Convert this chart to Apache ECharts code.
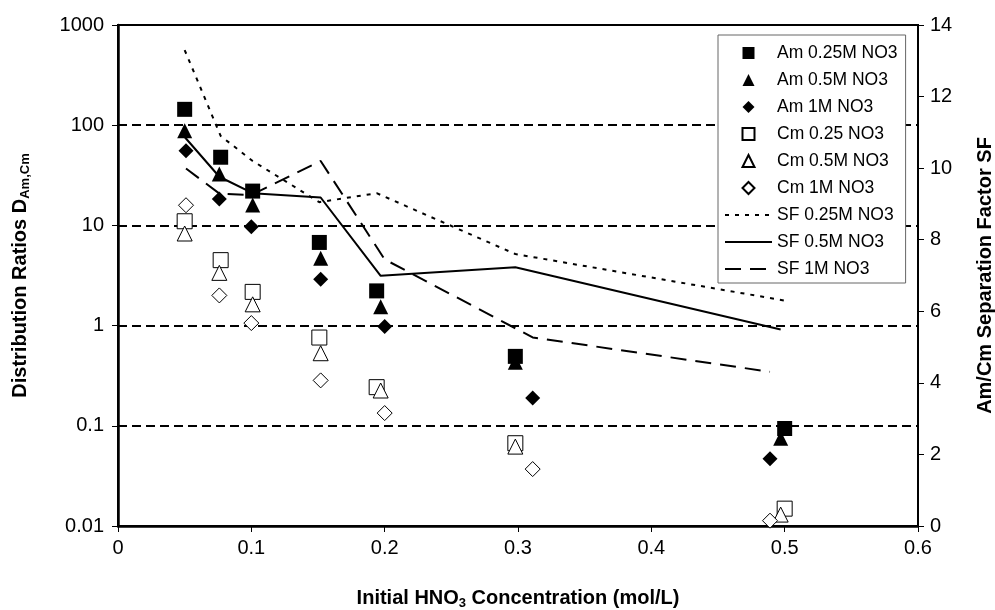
<!DOCTYPE html>
<html>
<head>
<meta charset="utf-8">
<script src="https://cdn.jsdelivr.net/npm/echarts@6/dist/echarts.min.js"></script>
<style>
html,body{margin:0;padding:0;background:#fff;}
#chart{width:995px;height:610px;}
</style>
</head>
<body>
<div id="chart"></div>
<script>
// ---- data ----
var x025 = [0.05, 0.077, 0.101, 0.151, 0.194, 0.298, 0.5];
var x05  = [0.05, 0.076, 0.101, 0.152, 0.197, 0.298, 0.497];
var x1   = [0.051, 0.076, 0.1, 0.152, 0.2, 0.311, 0.489];

var am025 = [144, 47.9, 22, 6.76, 2.22, 0.493, 0.094];
var am05  = [88, 32.6, 16, 4.7, 1.54, 0.43, 0.075];
var am1   = [55.7, 18.3, 9.7, 2.9, 0.98, 0.189, 0.047];

var cm025 = [11, 4.5, 2.17, 0.76, 0.243, 0.067, 0.0149];
var cm05  = [8.3, 3.36, 1.63, 0.53, 0.225, 0.062, 0.013];
var cm1   = [15.9, 2.0, 1.06, 0.284, 0.134, 0.037, 0.0113];

var sf025 = [13.3, 10.9, 10.2, 9.05, 9.3, 7.6, 6.3];
var sf05  = [10.87, 9.76, 9.3, 9.18, 6.99, 7.23, 5.49];
var sf1   = [9.99, 9.29, 9.25, 10.2, 7.45, 5.27, 4.31];

var seriesNames = ['Am 0.25M NO3', 'Am 0.5M NO3', 'Am 1M NO3',
                   'Cm 0.25 NO3', 'Cm 0.5M NO3', 'Cm 1M NO3',
                   'SF 0.25M NO3', 'SF 0.5M NO3', 'SF 1M NO3'];

function pairs(xs, ys) { return xs.map(function (x, i) { return [x, ys[i]]; }); }

var FONT = '"Liberation Sans", Arial, sans-serif';
var ICON = {
  rect: 'path://M0,0L10,0L10,10L0,10Z',
  triangle: 'path://M5,0L10,10L0,10Z',
  diamond: 'path://M5,0L10,5L5,10L0,5Z'
};

function scatter(name, xs, ys, symbol, filled) {
  return {
    name: name, type: 'scatter', yAxisIndex: 0, z: 5,
    symbol: symbol, symbolSize: 15,
    itemStyle: filled ? { color: '#000', borderColor: '#000', borderWidth: 0, opacity: 1 }
                      : { color: '#fff', borderColor: '#000', borderWidth: 1, opacity: 1 },
    data: pairs(xs, ys)
  };
}
function line(name, xs, ys, type, width) {
  return {
    name: name, type: 'line', yAxisIndex: 1, z: 3,
    symbol: 'circle', showSymbol: false, symbolSize: 0,
    lineStyle: { color: '#000', width: width, type: type },
    itemStyle: { color: 'rgba(0,0,0,0)', borderWidth: 0 },
    data: pairs(xs, ys)
  };
}

var legendData = [
  { name: seriesNames[0], icon: ICON.rect },
  { name: seriesNames[1], icon: ICON.triangle },
  { name: seriesNames[2], icon: ICON.diamond },
  { name: seriesNames[3], icon: ICON.rect },
  { name: seriesNames[4], icon: ICON.triangle },
  { name: seriesNames[5], icon: ICON.diamond },
  { name: seriesNames[6] },
  { name: seriesNames[7] },
  { name: seriesNames[8] }
];

var chart = echarts.init(document.getElementById('chart'), null, { renderer: 'canvas' });
chart.setOption({
  animation: false,
  backgroundColor: '#fff',
  textStyle: { fontFamily: FONT },
  grid: { left: 118, right: 77, top: 25, bottom: 84, containLabel: false, outerBoundsMode: 'none',
          show: true, borderColor: '#000', borderWidth: 2, backgroundColor: 'transparent' },
  legend: {
    orient: 'vertical', left: 718, top: 35,
    padding: [9, 8, 5, 6],
    itemWidth: 47, itemHeight: 12, itemGap: 9,
    symbolKeepAspect: true,
    backgroundColor: '#fff', borderColor: '#666', borderWidth: 1,
    selectedMode: false,
    textStyle: { fontFamily: FONT, fontSize: 17.5, color: '#000' },
    data: legendData
  },
  xAxis: {
    type: 'value', min: 0, max: 0.6, interval: 0.1,
    axisLine: { lineStyle: { color: '#000', width: 2.5 } },
    axisTick: { show: true, length: 6, lineStyle: { color: '#000', width: 1 } },
    axisLabel: { color: '#000', fontSize: 20, fontFamily: FONT, margin: 12,
      formatter: function (v) { return v === 0 ? '0' : (+v.toFixed(1)).toString(); } },
    splitLine: { show: false },
    name: 'Initial HNO{sub|3} Concentration (mol/L)',
    nameLocation: 'middle', nameGap: 61,
    nameTextStyle: { color: '#000', fontSize: 20, fontWeight: 'bold', fontFamily: FONT,
      rich: { sub: { fontSize: 13, fontWeight: 'bold', fontFamily: FONT, color: '#000', padding: [10, 0, 0, 0] } } }
  },
  yAxis: [{
    type: 'log', logBase: 10, min: 0.01, max: 1000,
    axisLine: { show: true, lineStyle: { color: '#000', width: 2.5 } },
    axisTick: { show: true, length: 6, lineStyle: { color: '#000', width: 1 } },
    axisLabel: { color: '#000', fontSize: 20, fontFamily: FONT, margin: 14,
      formatter: function (v) { return v >= 1 ? String(Math.round(v)) : String(+v.toPrecision(1)); } },
    splitLine: { show: true, lineStyle: { color: '#000', width: 2, type: [9, 5] } },
    name: 'Distribution Ratios D{sub|Am,Cm}',
    nameLocation: 'middle', nameRotate: 90, nameGap: 86,
    nameTextStyle: { color: '#000', fontSize: 20, fontWeight: 'bold', fontFamily: FONT,
      rich: { sub: { fontSize: 13, fontWeight: 'bold', fontFamily: FONT, color: '#000', padding: [10, 0, 0, 0] } } }
  }, {
    type: 'value', min: 0, max: 14, interval: 2, position: 'right',
    axisLine: { show: true, lineStyle: { color: '#000', width: 2 } },
    axisTick: { show: true, length: 6, lineStyle: { color: '#000', width: 1 } },
    axisLabel: { color: '#000', fontSize: 20, fontFamily: FONT, margin: 12 },
    splitLine: { show: false },
    name: 'Am/Cm Separation Factor SF',
    nameLocation: 'middle', nameRotate: 90, nameGap: 57,
    nameTextStyle: { color: '#000', fontSize: 20, fontWeight: 'bold', fontFamily: FONT }
  }],
  series: [
    scatter(seriesNames[0], x025, am025, 'rect', true),
    scatter(seriesNames[1], x05, am05, 'triangle', true),
    scatter(seriesNames[2], x1, am1, 'diamond', true),
    scatter(seriesNames[3], x025, cm025, 'rect', false),
    scatter(seriesNames[4], x05, cm05, 'triangle', false),
    scatter(seriesNames[5], x1, cm1, 'diamond', false),
    line(seriesNames[6], x025, sf025, [4, 6], 2),
    line(seriesNames[7], x05, sf05, 'solid', 2),
    line(seriesNames[8], x1, sf1, [16, 9], 2)
  ]
});
</script>
</body>
</html>
